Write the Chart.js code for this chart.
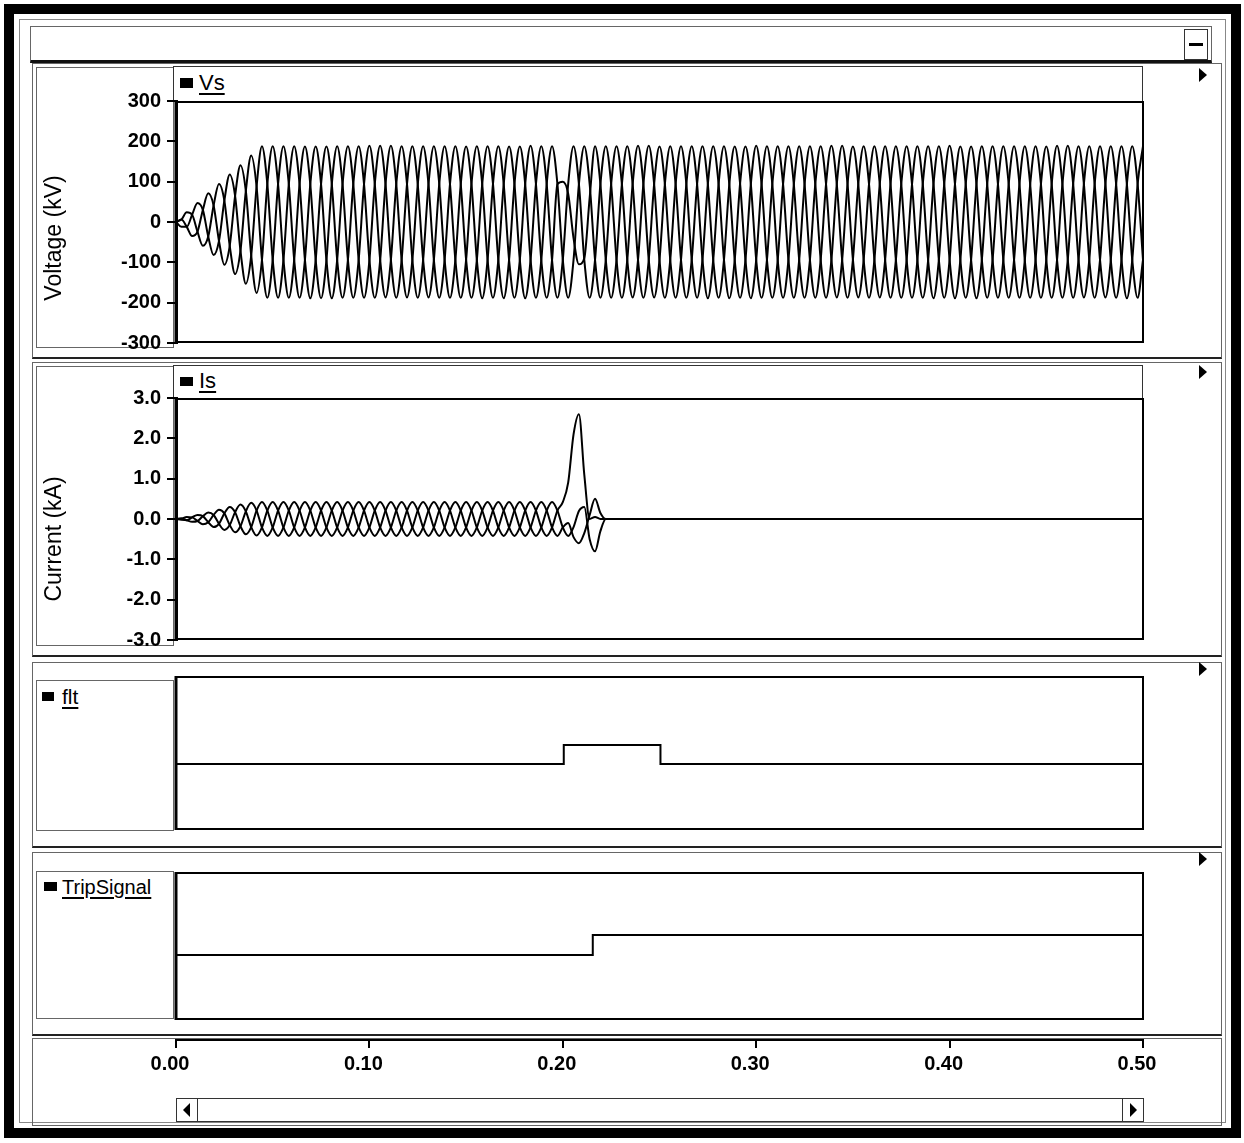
<!DOCTYPE html>
<html>
<head>
<meta charset="utf-8">
<script src="https://cdn.jsdelivr.net/npm/chart.js@4.4.1/dist/chart.umd.min.js"></script>
<style>
  body { margin: 0; width: 1244px; height: 1143px; background: #fff; position: relative; overflow: hidden;
         font-family: "Liberation Sans", Arial, sans-serif; }
  .b { position: absolute; box-sizing: border-box; border: 1px solid #666; }
  .sq { position: absolute; background: #000; }
  .lg { position: absolute; font-size: 22px; line-height: 24px; color: #000;
        text-decoration: underline; text-decoration-thickness: 2px; text-underline-offset: 3px; }
  .tri { position: absolute; width: 0; height: 0; border-top: 7px solid transparent;
         border-bottom: 7px solid transparent; border-left: 8px solid #000; }
  canvas { position: absolute; left: 0; }
</style>
</head>
<body>
<!-- window chrome -->
<div class="b" style="left:4px;top:4px;width:1237px;height:1134px;border:10px solid #000"></div>
<div class="b" style="left:19px;top:19px;width:1207px;height:1104px;border-color:#888"></div>
<div class="b" style="left:30px;top:26px;width:1182px;height:37px;border-bottom:3px solid #111"></div>
<div class="b" style="left:1184px;top:29px;width:24px;height:31px;border-color:#333"></div>
<div class="sq" style="left:1189px;top:43px;width:14px;height:3px"></div>

<!-- panels -->
<div class="b" style="left:32px;top:63px;width:1190px;height:296px;border-bottom:2px solid #222"></div>
<div class="b" style="left:32px;top:362px;width:1190px;height:295px;border-bottom:2px solid #222"></div>
<div class="b" style="left:32px;top:662px;width:1190px;height:186px;border-bottom:2px solid #222"></div>
<div class="b" style="left:32px;top:852px;width:1190px;height:184px;border-bottom:2px solid #222"></div>
<div class="b" style="left:32px;top:1038px;width:1190px;height:88px"></div>
<div class="b" style="left:36px;top:67px;width:138px;height:281px"></div>
<div class="b" style="left:36px;top:366px;width:138px;height:280px"></div>
<div class="b" style="left:36px;top:680px;width:138px;height:151px"></div>
<div class="b" style="left:36px;top:871px;width:138px;height:148px"></div>
<div class="b" style="left:173px;top:66px;width:970px;height:36px;border-color:#333"></div>
<div class="b" style="left:173px;top:365px;width:970px;height:34px;border-color:#333"></div>
<div class="tri" style="left:1199px;top:68px"></div>
<div class="tri" style="left:1199px;top:365px"></div>
<div class="tri" style="left:1199px;top:662px"></div>
<div class="tri" style="left:1199px;top:852px"></div>

<!-- legends -->
<div class="sq" style="left:180px;top:78px;width:13px;height:10px"></div>
<div class="lg" style="left:199px;top:71px">Vs</div>
<div class="sq" style="left:180px;top:377px;width:13px;height:9px"></div>
<div class="lg" style="left:199px;top:369px">Is</div>
<div class="sq" style="left:42px;top:692px;width:12px;height:9px"></div>
<div class="lg" style="left:62px;top:685px;font-size:21px">flt</div>
<div class="sq" style="left:44px;top:882px;width:13px;height:9px"></div>
<div class="lg" style="left:62px;top:875px;font-size:20px">TripSignal</div>

<!-- scrollbar -->
<div class="b" style="left:176px;top:1098px;width:968px;height:24px;border-color:#333"></div>
<div class="b" style="left:176px;top:1098px;width:22px;height:24px;border-color:#333"></div>
<div class="b" style="left:1122px;top:1098px;width:22px;height:24px;border-color:#333"></div>
<div class="tri" style="left:183px;top:1103px;border-left:0;border-right:7px solid #000"></div>
<div class="tri" style="left:1130px;top:1103px;border-left-width:7px"></div>

<canvas id="cV" width="1244" height="282" style="top:81px"></canvas>
<canvas id="cI" width="1244" height="282" style="top:378px"></canvas>
<canvas id="cF" width="1244" height="154" style="top:676px"></canvas>
<canvas id="cT" width="1244" height="148" style="top:872px"></canvas>
<canvas id="cX" width="1244" height="80" style="top:1020px"></canvas>

<script>
// source voltage, three phases (kV), one value per 1/360 s, one cycle per row
const vsA = [
  0, 6, -12, -35, -24, 30,
  71, 41, -47, -106, -59, 65,
  141, 77, -83, -176, -94, 94,
  188, 94, -94, -188, -94, 94,
  187, 93, -94, -189, -95, 94,
  188, 94, -94, -188, -94, 94,
  189, 94, -93, -187, -94, 94,
  188, 94, -94, -188, -94, 94,
  188, 95, -94, -188, -94, 93,
  187, 94, -94, -189, -94, 94,
  188, 94, -94, -188, -94, 94,
  189, 94, -95, -188, -94, 94,
  100, 70, -40, -105, -90, 60,
  188, 94, -94, -188, -94, 94,
  188, 94, -94, -188, -94, 94,
  187, 94, -94, -188, -94, 94,
  188, 94, -94, -189, -94, 94,
  188, 93, -94, -188, -94, 94,
  189, 94, -94, -188, -95, 94,
  188, 94, -94, -188, -94, 94,
  188, 94, -93, -187, -94, 94,
  187, 94, -94, -188, -94, 94,
  188, 94, -94, -188, -94, 93,
  188, 95, -94, -189, -94, 94,
  189, 94, -94, -188, -94, 94,
  188, 94, -94, -188, -94, 94,
  188, 94, -95, -188, -94, 94,
  187, 94, -94, -188, -93, 94,
  188, 94, -94, -188, -94, 94,
  188, 94, -94, -189, -94, 94,
  188
];
const vsB = [
  0, 6, 24, 18, -24, -59,
  -36, 41, 94, 53, -59, -129,
  -71, 77, 165, 88, -94, -188,
  -94, 94, 188, 94, -94, -188,
  -94, 94, 187, 94, -94, -189,
  -94, 94, 188, 94, -94, -188,
  -95, 94, 189, 94, -94, -188,
  -94, 94, 188, 93, -94, -187,
  -94, 94, 188, 94, -94, -188,
  -94, 95, 188, 94, -94, -188,
  -94, 94, 187, 94, -94, -189,
  -94, 94, 188, 94, -95, -188,
  -94, 94, 188, 94, -94, -188,
  -94, 94, 188, 94, -94, -188,
  -94, 94, 189, 94, -94, -187,
  -94, 94, 188, 94, -94, -188,
  -93, 94, 188, 94, -94, -188,
  -94, 94, 187, 95, -94, -189,
  -94, 94, 188, 94, -94, -188,
  -94, 93, 188, 94, -94, -188,
  -94, 94, 189, 94, -94, -188,
  -94, 94, 188, 94, -93, -187,
  -94, 94, 188, 94, -94, -188,
  -95, 94, 188, 94, -94, -188,
  -94, 94, 187, 94, -94, -189,
  -94, 94, 188, 94, -94, -188,
  -94, 94, 188, 93, -94, -188,
  -94, 94, 189, 94, -94, -188,
  -94, 95, 188, 94, -94, -187,
  -94, 94, 188, 94, -94, -188,
  -94
];
const vsC = [
  0, -12, -12, 18, 47, 30,
  -36, -82, -47, 53, 118, 65,
  -71, -153, -83, 88, 188, 94,
  -94, -188, -94, 94, 188, 94,
  -94, -189, -94, 94, 187, 94,
  -94, -188, -94, 94, 188, 94,
  -94, -188, -95, 94, 189, 94,
  -94, -187, -94, 93, 188, 94,
  -94, -188, -94, 94, 188, 94,
  -93, -188, -94, 94, 188, 95,
  -94, -189, -94, 94, 187, 94,
  -94, -188, -94, 94, 188, 94,
  -94, -188, -94, 94, 188, 94,
  -94, -188, -94, 94, 188, 94,
  -94, -187, -94, 94, 189, 94,
  -95, -188, -94, 94, 188, 94,
  -94, -188, -93, 94, 188, 94,
  -94, -189, -94, 95, 187, 94,
  -94, -188, -94, 94, 188, 94,
  -94, -188, -94, 93, 188, 94,
  -94, -188, -94, 94, 189, 94,
  -93, -187, -94, 94, 188, 94,
  -94, -188, -94, 94, 188, 94,
  -94, -188, -95, 94, 188, 94,
  -94, -189, -94, 94, 187, 94,
  -94, -188, -94, 94, 188, 94,
  -94, -188, -94, 93, 188, 94,
  -94, -188, -94, 94, 189, 94,
  -94, -187, -94, 94, 188, 95,
  -94, -188, -94, 94, 188, 94,
  -94
];

// source current, three phases (kA), same sampling; breaker clears the fault
const isA = [
  0, 0.01, -0.03, -0.07, -0.05, 0.07,
  0.16, 0.1, -0.12, -0.27, -0.15, 0.17,
  0.36, 0.19, -0.2, -0.41, -0.21, 0.21,
  0.42, 0.21, -0.21, -0.42, -0.21, 0.21,
  0.42, 0.21, -0.21, -0.42, -0.21, 0.21,
  0.42, 0.21, -0.21, -0.42, -0.21, 0.21,
  0.42, 0.21, -0.21, -0.42, -0.21, 0.21,
  0.42, 0.21, -0.21, -0.42, -0.21, 0.21,
  0.42, 0.21, -0.21, -0.42, -0.21, 0.21,
  0.42, 0.21, -0.21, -0.42, -0.21, 0.21,
  0.42, 0.21, -0.21, -0.42, -0.21, 0.21,
  0.42, 0.21, -0.21, -0.42, -0.21, 0.21,
  0.42, 0.9, 2.1, 2.6, 1.1, 0,
  0.05, 0, 0, 0, 0, 0,
  0, 0, 0, 0, 0, 0,  0, 0, 0, 0, 0, 0,  0, 0, 0, 0, 0, 0,  0, 0, 0, 0, 0, 0,
  0, 0, 0, 0, 0, 0,  0, 0, 0, 0, 0, 0,  0, 0, 0, 0, 0, 0,  0, 0, 0, 0, 0, 0,
  0, 0, 0, 0, 0, 0,  0, 0, 0, 0, 0, 0,  0, 0, 0, 0, 0, 0,  0, 0, 0, 0, 0, 0,
  0, 0, 0, 0, 0, 0,  0, 0, 0, 0, 0, 0,  0, 0, 0, 0, 0, 0,  0, 0, 0, 0, 0, 0,
  0
];
const isB = [
  0, 0.01, 0.05, 0.04, -0.05, -0.13,
  -0.08, 0.1, 0.23, 0.14, -0.15, -0.33,
  -0.18, 0.19, 0.4, 0.21, -0.21, -0.42,
  -0.21, 0.21, 0.42, 0.21, -0.21, -0.42,
  -0.21, 0.21, 0.42, 0.21, -0.21, -0.42,
  -0.21, 0.21, 0.42, 0.21, -0.21, -0.42,
  -0.21, 0.21, 0.42, 0.21, -0.21, -0.42,
  -0.21, 0.21, 0.42, 0.21, -0.21, -0.42,
  -0.21, 0.21, 0.42, 0.21, -0.21, -0.42,
  -0.21, 0.21, 0.42, 0.21, -0.21, -0.42,
  -0.21, 0.21, 0.42, 0.21, -0.21, -0.42,
  -0.21, 0.21, 0.42, 0.21, -0.21, -0.42,
  -0.21, -0.1, -0.45, -0.6, -0.35, 0.1,
  0.5, 0.15, 0, 0, 0, 0,
  0, 0, 0, 0, 0, 0,  0, 0, 0, 0, 0, 0,  0, 0, 0, 0, 0, 0,  0, 0, 0, 0, 0, 0,
  0, 0, 0, 0, 0, 0,  0, 0, 0, 0, 0, 0,  0, 0, 0, 0, 0, 0,  0, 0, 0, 0, 0, 0,
  0, 0, 0, 0, 0, 0,  0, 0, 0, 0, 0, 0,  0, 0, 0, 0, 0, 0,  0, 0, 0, 0, 0, 0,
  0, 0, 0, 0, 0, 0,  0, 0, 0, 0, 0, 0,  0, 0, 0, 0, 0, 0,  0, 0, 0, 0, 0, 0,
  0
];
const isC = [
  0, -0.02, -0.03, 0.04, 0.1, 0.07,
  -0.08, -0.2, -0.12, 0.14, 0.3, 0.17,
  -0.18, -0.38, -0.2, 0.21, 0.42, 0.21,
  -0.21, -0.42, -0.21, 0.21, 0.42, 0.21,
  -0.21, -0.42, -0.21, 0.21, 0.42, 0.21,
  -0.21, -0.42, -0.21, 0.21, 0.42, 0.21,
  -0.21, -0.42, -0.21, 0.21, 0.42, 0.21,
  -0.21, -0.42, -0.21, 0.21, 0.42, 0.21,
  -0.21, -0.42, -0.21, 0.21, 0.42, 0.21,
  -0.21, -0.42, -0.21, 0.21, 0.42, 0.21,
  -0.21, -0.42, -0.21, 0.21, 0.42, 0.21,
  -0.21, -0.42, -0.21, 0.21, 0.42, 0.21,
  -0.21, -0.42, -0.2, 0.2, 0.3, -0.5,
  -0.8, -0.3, 0, 0, 0, 0,
  0, 0, 0, 0, 0, 0,  0, 0, 0, 0, 0, 0,  0, 0, 0, 0, 0, 0,  0, 0, 0, 0, 0, 0,
  0, 0, 0, 0, 0, 0,  0, 0, 0, 0, 0, 0,  0, 0, 0, 0, 0, 0,  0, 0, 0, 0, 0, 0,
  0, 0, 0, 0, 0, 0,  0, 0, 0, 0, 0, 0,  0, 0, 0, 0, 0, 0,  0, 0, 0, 0, 0, 0,
  0, 0, 0, 0, 0, 0,  0, 0, 0, 0, 0, 0,  0, 0, 0, 0, 0, 0,  0, 0, 0, 0, 0, 0,
  0
];

// fault and trip logic signals (step changes)
const fltTime = [0, 0.2005, 0.2505, 0.5];
const fltValue = [0, 1, 0, 0];
const tripTime = [0, 0.2155, 0.5];
const tripValue = [0, 1, 1];

// axis ticks
const timeTicks = [0, 0.1, 0.2, 0.3, 0.4, 0.5];
const vsTicks = [-300, -200, -100, 0, 100, 200, 300];
const isTicks = [-3, -2, -1, 0, 1, 2, 3];

// sample instants of the recorded waveforms (1/360 s apart)
const sampleTime = vsA.map((_, i) => i / 360);

const tickFont = { family: "'Liberation Sans Narrow','Arial Narrow','Liberation Sans',Arial,sans-serif", size: 20, weight: 'bold' };
const PLOT_LEFT = 176;
const PAD_RIGHT = 101;

// black box round each plot area
const plotFrame = {
  id: 'plotFrame',
  afterDraw(chart) {
    const a = chart.chartArea;
    const ctx = chart.ctx;
    ctx.save();
    ctx.strokeStyle = '#000';
    ctx.lineWidth = 2;
    ctx.strokeRect(a.left, a.top + 1, a.right - a.left, a.bottom - a.top - 2);
    ctx.lineWidth = 3;
    ctx.beginPath();
    ctx.moveTo(a.left, a.top);
    ctx.lineTo(a.left, a.bottom);
    ctx.stroke();
    ctx.restore();
  }
};

// rotated y axis caption, placed like the original
const sideTitle = {
  id: 'sideTitle',
  afterDraw(chart, args, opts) {
    if (!opts.text) return;
    const ctx = chart.ctx;
    ctx.save();
    ctx.translate(opts.x, opts.y);
    ctx.rotate(-Math.PI / 2);
    ctx.font = '23px "Liberation Sans", Arial, sans-serif';
    ctx.fillStyle = '#000';
    ctx.textAlign = 'center';
    ctx.textBaseline = 'middle';
    ctx.fillText(opts.text, 0, 0);
    ctx.restore();
  }
};

function lineSet(name, data, extra) {
  return Object.assign({
    label: name,
    data: data,
    borderColor: '#000',
    borderWidth: 2,
    pointRadius: 0,
    fill: false
  }, extra || {});
}

function wavePanel(id, phases, ticks, digits, title, titleY) {
  return new Chart(document.getElementById(id), {
    type: 'line',
    data: {
      labels: sampleTime,
      datasets: phases.map((d, i) => lineSet('phase ' + 'ABC'[i], d, { cubicInterpolationMode: 'monotone' }))
    },
    options: {
      responsive: false,
      animation: false,
      events: [],
      layout: { padding: { left: 0, right: PAD_RIGHT, top: 20, bottom: 20 } },
      scales: {
        x: { type: 'linear', min: 0, max: 0.5, display: false },
        y: {
          min: ticks[0],
          max: ticks[ticks.length - 1],
          afterFit: s => { s.width = PLOT_LEFT; },
          afterBuildTicks: s => { s.ticks = ticks.map(v => ({ value: v })); },
          ticks: { callback: v => v.toFixed(digits), font: tickFont, color: '#000', padding: 6 },
          grid: { drawOnChartArea: false, color: '#000', lineWidth: 2, tickLength: 9 },
          border: { display: true, color: '#000', width: 3 }
        }
      },
      plugins: {
        legend: { display: false },
        tooltip: { enabled: false },
        sideTitle: { text: title, x: 55, y: titleY }
      }
    },
    plugins: [plotFrame, sideTitle]
  });
}

function stepPanel(id, times, values, yMin, yMax) {
  return new Chart(document.getElementById(id), {
    type: 'line',
    data: {
      datasets: [lineSet('signal', times.map((t, i) => ({ x: t, y: values[i] })), { stepped: true })]
    },
    options: {
      responsive: false,
      animation: false,
      events: [],
      layout: { padding: { left: PLOT_LEFT, right: PAD_RIGHT, top: 0, bottom: 0 } },
      scales: {
        x: { type: 'linear', min: 0, max: 0.5, display: false },
        y: { min: yMin, max: yMax, display: false }
      },
      plugins: { legend: { display: false }, tooltip: { enabled: false } }
    },
    plugins: [plotFrame]
  });
}

wavePanel('cV', [vsA, vsB, vsC], vsTicks, 0, 'Voltage (kV)', 157);
wavePanel('cI', [isA, isB, isC], isTicks, 1, 'Current (kA)', 161);
stepPanel('cF', fltTime, fltValue, -3.47, 4.63);
stepPanel('cT', tripTime, tripValue, -3.25, 4.15);

// shared time axis along the bottom
new Chart(document.getElementById('cX'), {
  type: 'line',
  data: { datasets: [] },
  options: {
    responsive: false,
    animation: false,
    events: [],
    layout: { padding: { left: PLOT_LEFT, right: PAD_RIGHT, top: 0, bottom: 0 } },
    scales: {
      x: {
        type: 'linear',
        position: 'bottom',
        min: 0,
        max: 0.5,
        afterFit: s => { s.height = 60; },
        afterBuildTicks: s => { s.ticks = timeTicks.map(v => ({ value: v })); },
        ticks: { callback: v => v.toFixed(2), font: tickFont, color: '#000', padding: 4,
                 labelOffset: -6, maxRotation: 0, autoSkip: false },
        grid: { drawOnChartArea: false, color: '#000', lineWidth: 2, tickLength: 8 },
        border: { display: true, color: '#000', width: 2 }
      },
      y: { display: false, min: 0, max: 1 }
    },
    plugins: { legend: { display: false }, tooltip: { enabled: false } }
  }
});
</script>
</body>
</html>
